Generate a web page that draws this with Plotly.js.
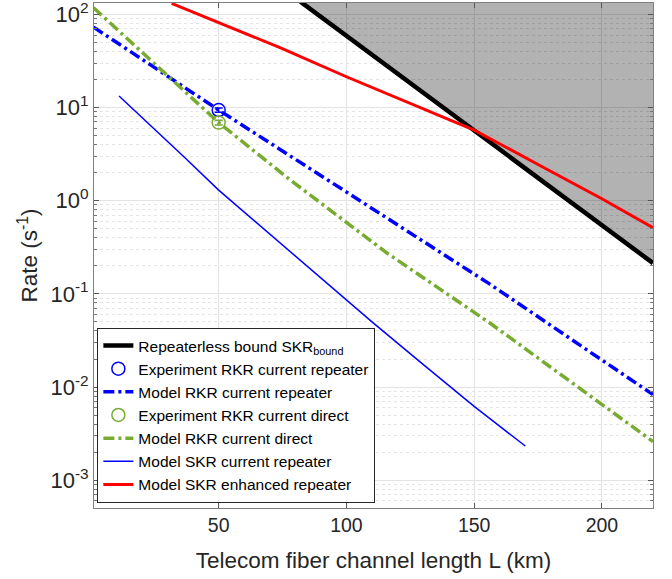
<!DOCTYPE html>
<html>
<head>
<meta charset="utf-8">
<script src="https://cdn.plot.ly/plotly-3.0.1.min.js"></script>
<style>html,body{margin:0;padding:0;background:#fff;}#chart{width:672px;height:579px;}</style>
</head>
<body>
<div id="chart"></div>
<script>
// Repeaterless bound SKR_bound
const boundL = [82, 100, 150, 200, 220];
const boundRate = [136.8, 58.9, 5.66, 0.545, 0.214];

// Experiment RKR current repeater
const expRepL = [50];
const expRepRate = [9.4];
const expRepErr = [0.5];

// Model RKR current repeater
const modelRepL = [1, 10, 50, 100, 150, 156, 200, 220];
const modelRepRate = [73, 50.3, 9.4, 1.24, 0.165, 0.128, 0.0195, 0.0083];

// Experiment RKR current direct
const expDirL = [50];
const expDirRate = [6.9];
const expDirErr = [0.4];

// Model RKR current direct
const modelDirL = [1, 32, 50, 78, 100, 116, 156, 200, 220];
const modelDirRate = [118, 19.5, 6.9, 1.67, 0.583, 0.273, 0.049, 0.0066, 0.0026];

// Model SKR current repeater
const skrCurL = [11, 20, 37, 50, 75, 100, 110, 130, 150, 170];
const skrCurRate = [13.3, 7.85, 2.86, 1.30, 0.336, 0.085, 0.050, 0.0175, 0.0062, 0.00233];

// Model SKR enhanced repeater
const skrEnhL = [31.6, 50, 74, 100, 125, 150, 175, 187.6, 200, 220];
const skrEnhRate = [131, 81, 44, 21.4, 11.0, 5.73, 2.45, 1.61, 1.05, 0.513];

const names = [
  'Repeaterless bound SKR<sub>bound</sub>',
  'Experiment RKR current repeater',
  'Model RKR current repeater',
  'Experiment RKR current direct',
  'Model RKR current direct',
  'Model SKR current repeater',
  'Model SKR enhanced repeater'
];

const blue = '#0000FF', green = '#77AC30', red = '#FF0000';
const dashDot = '11px,4px,3px,4px';

// shaded region above the bound
const fillX = boundL.concat([boundL[boundL.length-1], boundL[0]]);
const fillY = boundRate.concat([1000, 1000]);

const traces = [
  {x: fillX, y: fillY, mode: 'lines', fill: 'toself', fillcolor: 'rgba(0,0,0,0.3)',
   line: {width: 0}, showlegend: false, hoverinfo: 'skip'},
  {x: boundL, y: boundRate, name: names[0], mode: 'lines', line: {color: '#000', width: 4.5}},
  {x: expRepL, y: expRepRate, name: names[1], mode: 'markers',
   marker: {symbol: 'circle-open', size: 13, color: blue, line: {width: 1.5, color: blue}},
   error_y: {type: 'data', array: expRepErr, visible: true, color: blue, thickness: 1.5, width: 4}},
  {x: modelRepL, y: modelRepRate, name: names[2], mode: 'lines', line: {color: blue, width: 3.5, dash: dashDot}},
  {x: expDirL, y: expDirRate, name: names[3], mode: 'markers',
   marker: {symbol: 'circle-open', size: 13, color: green, line: {width: 1.5, color: green}},
   error_y: {type: 'data', array: expDirErr, visible: true, color: green, thickness: 1.5, width: 4}},
  {x: modelDirL, y: modelDirRate, name: names[4], mode: 'lines', line: {color: green, width: 3.5, dash: dashDot}},
  {x: skrCurL, y: skrCurRate, name: names[5], mode: 'lines', line: {color: blue, width: 1.5}},
  {x: skrEnhL, y: skrEnhRate, name: names[6], mode: 'lines', line: {color: red, width: 3}}
];

const fontFam = 'Arial, "Liberation Sans", Helvetica, sans-serif';
const txt = '#262626';

const layout = {
  width: 672, height: 579,
  margin: {l: 94, r: 19, t: 3, b: 71},
  paper_bgcolor: '#fff', plot_bgcolor: '#fff',
  font: {family: fontFam, color: txt, size: 16},
  showlegend: true,
  legend: {x: 0.006, y: 0.01, xanchor: 'left', yanchor: 'bottom',
    bgcolor: '#fff', bordercolor: '#262626', borderwidth: 1,
    font: {family: fontFam, size: 15.5, color: '#000'}, tracegroupgap: 0},
  xaxis: {
    range: [1.2, 220], tickvals: [50, 100, 150, 200],
    ticks: 'inside', ticklen: 5, tickcolor: '#555',
    showline: true, linecolor: '#808080', linewidth: 1, mirror: 'ticks',
    showgrid: true, gridcolor: '#e3e3e3', zeroline: false,
    tickfont: {size: 19.5, color: txt},
    title: {text: 'Telecom fiber channel length L (km)', font: {size: 22.5, color: txt}, standoff: 16}
  },
  yaxis: {
    type: 'log', range: [-3.298, 2.122],
    tickvals: [0.001, 0.01, 0.1, 1, 10, 100],
    ticktext: ['10<sup>-3</sup>', '10<sup>-2</sup>', '10<sup>-1</sup>', '10<sup>0</sup>', '10<sup>1</sup>', '10<sup>2</sup>'],
    ticklabeloverflow: 'allow',
    ticks: 'inside', ticklen: 5, tickcolor: '#555',
    showline: true, linecolor: '#808080', linewidth: 1, mirror: 'ticks',
    showgrid: true, gridcolor: '#e3e3e3', zeroline: false,
    minor: {ticks: 'inside', ticklen: 3, tickcolor: '#777', showgrid: true, gridcolor: '#e4e4e4', griddash: 'dot', dtick: 'D1'},
    tickfont: {size: 22, color: txt},
    title: {text: 'Rate (s<sup>-1</sup>)', font: {size: 22.5, color: txt}, standoff: 6}
  }
};

Plotly.newPlot('chart', traces, layout, {staticPlot: true, displayModeBar: false});
</script>
</body>
</html>
